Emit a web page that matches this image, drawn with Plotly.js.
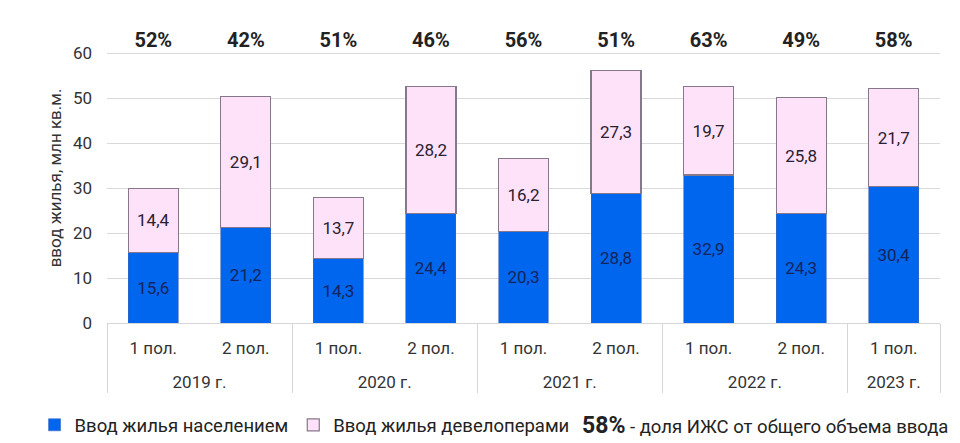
<!DOCTYPE html>
<html>
<head>
<meta charset="utf-8">
<script src="https://cdn.plot.ly/plotly-3.0.1.min.js"></script>
<style>
html,body{margin:0;padding:0;background:#fff;}
#chart{width:960px;height:443px;}
</style>
</head>
<body>
<div id="chart"></div>
<script>
// ---- data ----
const years = ['2019 г.','2019 г.','2020 г.','2020 г.','2021 г.','2021 г.','2022 г.','2022 г.','2023 г.'];
const halves = ['1 пол.','2 пол.','1 пол.','2 пол.','1 пол.','2 пол.','1 пол.','2 пол.','1 пол.'];
const population = [15.6, 21.2, 14.3, 24.4, 20.3, 28.8, 32.9, 24.3, 30.4];
const developers = [14.4, 29.1, 13.7, 28.2, 16.2, 27.3, 19.7, 25.8, 21.7];
const ijsShare = ['52%','42%','51%','46%','56%','51%','63%','49%','58%'];
const seriesNames = ['Ввод жилья населением','Ввод жилья девелоперами'];
const yTitle = 'ввод жилья, млн кв.м.';
const noteBold = '58%';
const noteText = ' - доля ИЖС от общего объема ввода';

// ---- style ----
const FONT = 'Roboto, "Noto Sans", sans-serif';
const BLUE = '#0066ee';
const PINK = '#fde2fa';
const PCT_Y = 62.4;   // label row above the 60 gridline

// inner label gets an extra blank line so the year row sits lower
const x = [years, halves.map(h => h + '<br>\u00a0')];

const traces = [
  {
    type: 'bar', name: seriesNames[0], x: x, y: population,
    marker: {color: BLUE, line: {color: '#3a66c0', width: 0.6}},
    texttemplate: '%{y:.1f}', textposition: 'inside', insidetextanchor: 'middle',
    textfont: {family: FONT, size: 17, color: '#14245c'},
    hoverinfo: 'skip'
  },
  {
    type: 'bar', name: seriesNames[1], x: x, y: developers,
    marker: {color: PINK, line: {color: '#85788a', width: 1.2}},
    texttemplate: '%{y:.1f}', textposition: 'inside', insidetextanchor: 'middle',
    textfont: {family: FONT, size: 17, color: '#2a2030'},
    hoverinfo: 'skip'
  },
  {
    type: 'scatter', mode: 'text', x: x, y: ijsShare.map(() => PCT_Y),
    text: ijsShare.map(s => '<b>' + s + '</b>'),
    textfont: {family: FONT, size: 20, color: '#222'},
    cliponaxis: false, showlegend: false, hoverinfo: 'skip'
  }
];

const layout = {
  width: 960, height: 443,
  margin: {l: 107, r: 20, t: 33, b: 120},
  paper_bgcolor: '#fff', plot_bgcolor: '#fff',
  separators: ', ',
  barmode: 'stack',
  bargap: 0.46,
  font: {family: FONT, size: 16, color: '#333'},
  xaxis: {
    type: 'multicategory',
    showdividers: true, dividercolor: '#d6d6d6', dividerwidth: 1,
    showline: true, linecolor: '#d6d6d6', linewidth: 1,
    ticks: '', ticklabelstandoff: 10,
    tickfont: {family: FONT, size: 17, color: '#333'},
    fixedrange: true
  },
  yaxis: {
    range: [0, 64.5], tickvals: [0, 10, 20, 30, 40, 50, 60],
    showgrid: true, gridcolor: '#d9d9d9', gridwidth: 1,
    zeroline: false, showline: false,
    ticks: '', ticklabelstandoff: 14,
    tickfont: {family: FONT, size: 17, color: '#333'},
    title: {text: yTitle, font: {family: FONT, size: 17, color: '#333'}, standoff: 6},
    fixedrange: true
  },
  showlegend: true,
  legend: {
    orientation: 'h',
    xref: 'container', x: 0.036, xanchor: 'left',
    yref: 'container', y: 0.04, yanchor: 'middle',
    font: {family: FONT, size: 18.5, color: '#222'},
    itemwidth: 30, traceorder: 'normal', bgcolor: 'rgba(0,0,0,0)'
  },
  annotations: [
    {
      xref: 'paper', yref: 'paper', x: 1.012, xanchor: 'right', y: -0.352, yanchor: 'middle',
      showarrow: false,
      text: '<b><span style="font-size:23px">' + noteBold + '</span></b>' + noteText,
      font: {family: FONT, size: 18.5, color: '#222'}
    }
  ]
};

Plotly.newPlot('chart', traces, layout, {displayModeBar: false, staticPlot: true});
</script>
</body>
</html>
